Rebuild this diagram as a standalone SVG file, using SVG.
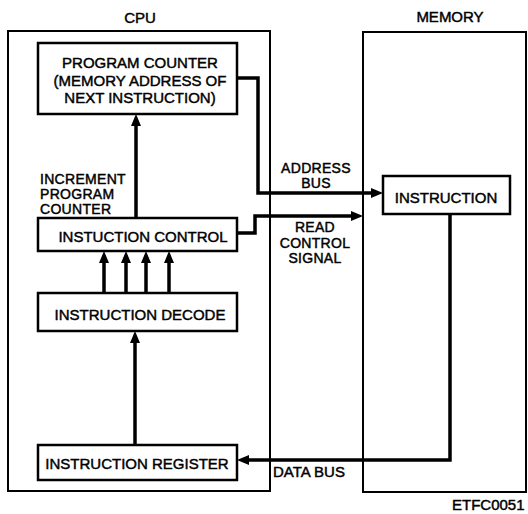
<svg xmlns="http://www.w3.org/2000/svg" width="528" height="514" viewBox="0 0 528 514">
  <style>
    text { font-family: "Liberation Sans", Arial, sans-serif; font-size: 15px; fill: #000; stroke: #000; stroke-width: 0.45; }
    .c { text-anchor: middle; }
    .s { font-size: 14px; letter-spacing: 0.3px; }
    .outer { fill: none; stroke: #000; stroke-width: 2; }
    .box { fill: #fff; stroke: #000; stroke-width: 2.5; }
    .wire { fill: none; stroke: #000; stroke-width: 3.5; stroke-linejoin: miter; stroke-linecap: butt; }
  </style>
  <defs>
    <marker id="ah" markerUnits="userSpaceOnUse" markerWidth="13" markerHeight="11" refX="4" refY="5" orient="auto">
      <path d="M0,0 L12,5 L0,10 z" fill="#000"/>
    </marker>
  </defs>
  <rect width="528" height="514" fill="#fff"/>

  <g id="cpu">
    <rect class="outer" x="8" y="31" width="262" height="460"/>
    <text class="c" x="140" y="23">CPU</text>
  </g>
  <g id="memory">
    <rect class="outer" x="363" y="32" width="163" height="460"/>
    <text class="c" x="450" y="22">MEMORY</text>
  </g>

  <g id="connectors">
    <path class="wire" d="M237,78 H258 V193 H375" marker-end="url(#ah)"/>
    <path class="wire" d="M237,233 H255 V216 H355" marker-end="url(#ah)"/>
    <path class="wire" d="M450,214 V460 H245" marker-end="url(#ah)"/>
    <path class="wire" d="M136,218 V122" marker-end="url(#ah)"/>
    <path class="wire" d="M104,293 V259" marker-end="url(#ah)"/>
    <path class="wire" d="M126,293 V259" marker-end="url(#ah)"/>
    <path class="wire" d="M146,293 V259" marker-end="url(#ah)"/>
    <path class="wire" d="M169,293 V259" marker-end="url(#ah)"/>
    <path class="wire" d="M135,445 V339" marker-end="url(#ah)"/>
    <text class="c s" x="316" y="173">ADDRESS</text>
    <text class="c s" x="316" y="188">BUS</text>
    <text class="c s" x="315" y="232">READ</text>
    <text class="c s" x="315" y="247.5">CONTROL</text>
    <text class="c s" x="315" y="263">SIGNAL</text>
    <text x="273" y="477">DATA BUS</text>
    <text class="s" x="40" y="184">INCREMENT</text>
    <text class="s" x="40" y="199">PROGRAM</text>
    <text class="s" x="40" y="214">COUNTER</text>
  </g>

  <g id="program-counter">
    <rect class="box" x="38" y="43" width="199" height="71"/>
    <text class="c" x="140" y="68">PROGRAM COUNTER</text>
    <text class="c" x="140" y="85.5">(MEMORY ADDRESS OF</text>
    <text class="c" x="140" y="103">NEXT INSTRUCTION)</text>
  </g>
  <g id="instruction-control">
    <rect class="box" x="38" y="218" width="199" height="33"/>
    <text class="c" x="143" y="242">INSTUCTION CONTROL</text>
  </g>
  <g id="instruction-decode">
    <rect class="box" x="38" y="293" width="199" height="38"/>
    <text class="c" x="140" y="320">INSTRUCTION DECODE</text>
  </g>
  <g id="instruction-register">
    <rect class="box" x="38" y="445" width="199" height="35"/>
    <text class="c" x="137" y="469">INSTRUCTION REGISTER</text>
  </g>
  <g id="instruction">
    <rect class="box" x="383" y="176" width="127" height="38"/>
    <text class="c" x="446" y="203">INSTRUCTION</text>
  </g>

  <text x="452" y="510">ETFC0051</text>
</svg>
